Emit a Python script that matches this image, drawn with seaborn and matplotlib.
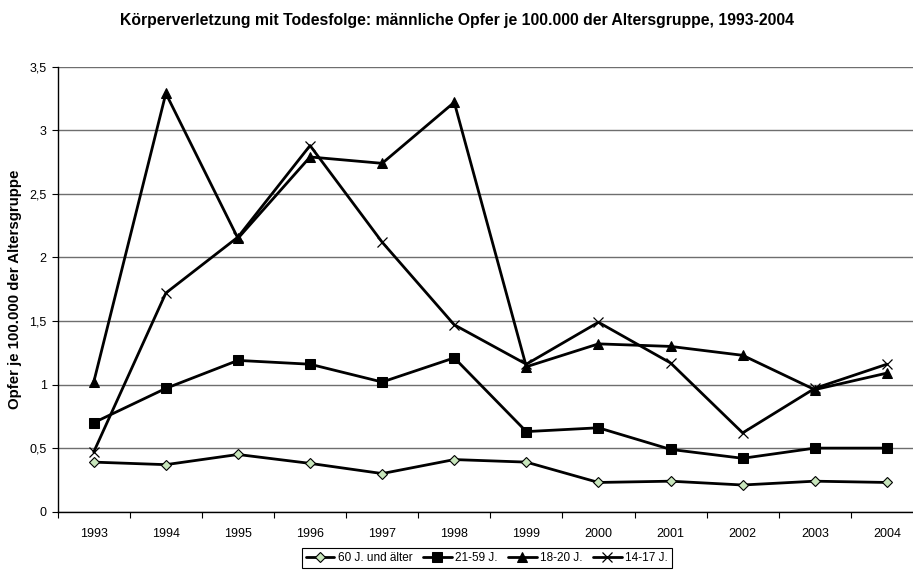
import matplotlib
matplotlib.use("Agg")
import matplotlib.pyplot as plt
import seaborn as sns
import pandas as pd

years = ["1993", "1994", "1995", "1996", "1997", "1998", "1999", "2000", "2001", "2002", "2003", "2004"]
s60 = [0.39, 0.37, 0.45, 0.38, 0.30, 0.41, 0.39, 0.23, 0.24, 0.21, 0.24, 0.23]
s2159 = [0.70, 0.97, 1.19, 1.16, 1.02, 1.21, 0.63, 0.66, 0.49, 0.42, 0.50, 0.50]
s1820 = [1.02, 3.29, 2.15, 2.79, 2.74, 3.22, 1.14, 1.32, 1.30, 1.23, 0.96, 1.09]
s1417 = [0.47, 1.72, 2.16, 2.88, 2.12, 1.47, 1.16, 1.49, 1.17, 0.62, 0.97, 1.16]
names = ["60 J. und älter", "21-59 J.", "18-20 J.", "14-17 J."]
ytick_vals = [0, 0.5, 1, 1.5, 2, 2.5, 3, 3.5]
ytick_labels = ["0", "0,5", "1", "1,5", "2", "2,5", "3", "3,5"]
title = "Körperverletzung mit Todesfolge: männliche Opfer je 100.000 der Altersgruppe, 1993-2004"
ylabel = "Opfer je 100.000 der Altersgruppe"

sns.set_style("white")
plt.rcParams["font.family"] = ["Liberation Sans", "DejaVu Sans"]
plt.rcParams["text.color"] = "black"
plt.rcParams["axes.labelcolor"] = "black"
plt.rcParams["xtick.color"] = "black"
plt.rcParams["ytick.color"] = "black"

fig = plt.figure(figsize=(9.13, 5.71), dpi=100)
ax = fig.add_axes([57.7 / 913, (571 - 511.7) / 571, 865.2 / 913, 445 / 571])

idx = list(range(len(years)))
series = [s60, s2159, s1820, s1417]
styles = [
    dict(marker="D", markersize=5.5, markerfacecolor="#c8e6bc", markeredgecolor="black", markeredgewidth=0.8),
    dict(marker="s", markersize=7, markerfacecolor="black", markeredgecolor="black"),
    dict(marker="^", markersize=7, markerfacecolor="black", markeredgecolor="black"),
    dict(marker="x", markersize=6.5, markeredgecolor="black", markeredgewidth=0.9),
]
for vals, name, st in zip(series, names, styles):
    df = pd.DataFrame({"x": idx, "y": vals})
    sns.lineplot(data=df, x="x", y="y", ax=ax, color="black", linewidth=2.0,
                 label=name, zorder=3, **st)

ax.set_xlim(-0.5, 11.5)
ax.set_ylim(0, 3.5)
ax.set_yticks(ytick_vals)
ax.set_yticklabels(ytick_labels, fontsize=9)
ax.set_xticks(idx)
ax.set_xticklabels(years, fontsize=9)
ax.set_xticks([i - 0.5 for i in range(len(years) + 1)], minor=True)
ax.tick_params(axis="x", which="major", length=0, pad=12, labelcolor="black")
ax.tick_params(axis="x", which="minor", length=4, width=0.8, color="black", direction="out", bottom=True)
ax.tick_params(axis="y", which="major", length=4, width=0.8, color="black", direction="out", left=True, pad=4,
               labelcolor="black")
ax.yaxis.grid(True, color="#6e6e6e", linewidth=1.0)
ax.set_axisbelow(True)
for s in ["top", "right"]:
    ax.spines[s].set_visible(False)
for s in ["left", "bottom"]:
    ax.spines[s].set_color("black")
    ax.spines[s].set_linewidth(1.0)
ax.set_xlabel("")
ax.set_ylabel(ylabel, fontsize=10.8, fontweight="bold", color="black")
ax.yaxis.set_label_coords((22 - 57.7) / 865.2, 0.5)

fig.suptitle(title, x=0.5, y=1 - 20 / 571, fontsize=11.3, fontweight="bold", va="center", color="black")

ax.legend_.remove()
handles, labels = ax.get_legend_handles_labels()
leg = fig.legend(handles, labels, loc="center", bbox_to_anchor=(487 / 913, 1 - 558 / 571),
                 ncol=4, fontsize=8.5, frameon=True, fancybox=False, edgecolor="black",
                 handlelength=2.4, handletextpad=0.3, columnspacing=0.9, borderpad=0.35,
                 framealpha=1, labelcolor="black")
leg.get_frame().set_linewidth(0.8)

fig.savefig("out.png", dpi=100)
